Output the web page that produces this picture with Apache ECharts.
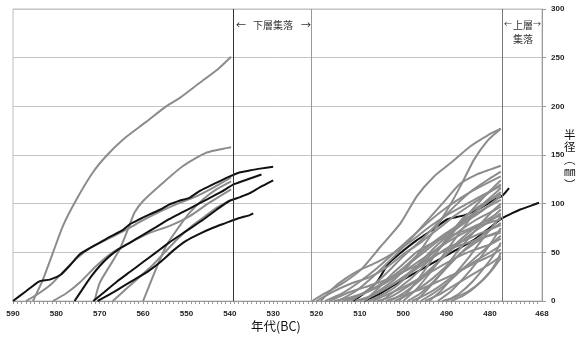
<!DOCTYPE html>
<html>
<head>
<meta charset="utf-8">
<script src="https://cdn.jsdelivr.net/npm/echarts@6/dist/echarts.min.js"></script>
<style>
  html, body { margin: 0; padding: 0; background: #fff; }
  #chart { width: 588px; height: 337px; }
</style>
</head>
<body>
<div id="chart"></div>
<script>
// 年代ラベル（BC）と半径の目盛
const yearLabels = [590, 580, 570, 560, 550, 540, 530, 520, 510, 500, 490, 480, 468];
const radiusTicks = [0, 50, 100, 150, 200, 250, 300];
// 集落の境界（年代）
const boundaryYears = [539.3, 521.3, 477.2];

// 下層集落：黒線
const lowerBlack = [
  [[590, 0], [587, 10], [584, 20], [581.5, 22], [579, 27], [577, 36], [574.6, 48], [572, 55], [570, 60], [567.7, 66], [565, 72], [563, 79], [560.8, 84], [558.5, 89], [556, 94], [554, 99], [551.6, 103], [549.3, 106], [547, 113], [544.7, 118], [542.4, 123], [540, 128], [537.8, 132], [535.5, 134], [533, 136], [530, 138]],
  [[575.8, 0], [574, 12], [572, 25], [570, 36], [568, 45], [566, 52], [563, 60], [560, 68], [557, 76], [554, 84], [551, 91], [548, 98], [545, 105], [542, 112], [539, 120], [535.5, 125.6], [532.7, 130]],
  [[571.5, 0], [569, 9], [566, 20], [563, 30], [560, 40], [557, 50], [554, 60], [550, 72], [546, 84], [543, 94], [540, 103], [537.5, 107], [535.5, 110.5], [533, 117], [530, 124]],
  [[570.5, 0], [568, 6], [565, 14], [562, 22], [559, 30], [556, 40], [553, 52], [550, 62], [547, 69], [544, 75], [541, 80], [538, 85], [535.5, 88], [534.6, 90]]
];

// 下層集落：灰色線
const lowerGray = [
  [[585.4, 0], [583.1, 22], [580.8, 49.5], [578.5, 77], [575.4, 104], [571.6, 132], [568.5, 149], [564.6, 166], [559.3, 184], [554.7, 200], [551.6, 208.5], [547, 224], [542.9, 237.6], [539.7, 251]],
  [[571.2, 0], [570, 18.6], [567.7, 36], [565.4, 53], [563.5, 73.5], [562, 90.6], [560, 102.7], [555.4, 121.5], [550.8, 138.7], [545.4, 152.4], [539.7, 158]],
  [[587, 0], [584, 8], [581, 18], [578, 32], [575, 45], [572, 55], [568, 64], [564, 73], [560, 83], [556, 92], [552, 100], [548, 107], [544, 116], [539.7, 127]],
  [[580.8, 0], [577.7, 8], [574.6, 19], [570.8, 36], [567, 50], [563, 60], [558.5, 70], [554, 77], [549.3, 87], [544.7, 101], [539.7, 114.7]],
  [[567, 0], [564, 12], [561, 24], [558, 36], [555, 50], [552, 64], [549, 76], [546, 86], [543, 96], [539.7, 104]],
  [[560, 0], [557.7, 25.5], [554.7, 56.5], [551.6, 77], [549.3, 90.6], [546.2, 104.4], [543.1, 114.7], [539.7, 123]]
];

// 上層集落：黒線
const upperBlack = [
  [[511.5, 0], [509, 8], [506, 20], [503.5, 38], [501, 48], [497, 62], [493, 74], [489.8, 84], [486, 88], [482, 96], [479, 104], [477.2, 108], [475.6, 116]],
  [[509, 0], [506, 6], [503, 14], [500, 22], [496, 32], [492, 42], [488, 52], [484, 62], [481, 72], [477.2, 85], [475, 90], [473, 94], [470.5, 98], [468.7, 101]]
];

// 上層集落：灰色線
const upperGray = [
  [[521, 0], [518, 8], [514.4, 17], [509.8, 32], [505.2, 56], [500.6, 80], [496.8, 108], [492.9, 128], [489, 142], [484.5, 159], [480.6, 170], [477.5, 177]],
  [[509, 0], [506.7, 7], [502, 22], [497.5, 43], [493.7, 67], [489.8, 94], [486.8, 118], [483.7, 145], [480.5, 165], [477.5, 177]],
  [[515, 0], [511, 10], [507, 25], [503, 42], [499, 60], [495, 80], [491, 100], [487, 120], [483, 130], [480, 135], [477.5, 139]],
  [[512, 0], [508, 12], [504, 28], [500, 46], [496, 62], [492, 80], [488, 98], [484, 114], [480, 126], [477.5, 133]],
  [[518, 0], [514, 8], [510, 20], [506, 34], [502, 50], [498, 66], [494, 82], [490, 96], [486, 108], [482, 118], [477.5, 128]],
  [[505, 0], [502, 10], [498, 24], [494, 42], [490, 62], [486, 84], [482, 104], [477.5, 124]],
  [[520, 0], [516, 10], [512, 18], [508, 24], [504, 34], [500, 48], [496, 60], [492, 74], [488, 88], [484, 100], [480, 112], [477.5, 120]],
  [[500, 0], [497, 12], [494, 28], [491, 46], [488, 64], [485, 82], [482, 98], [479.5, 108], [477.5, 116]],
  [[513, 0], [509, 8], [505, 18], [501, 30], [497, 44], [493, 58], [489, 72], [485, 86], [481, 100], [477.5, 112]],
  [[508, 0], [505, 6], [502, 14], [499, 26], [496, 40], [493, 54], [490, 66], [486, 80], [482, 92], [477.5, 108]],
  [[516, 0], [512, 4], [508, 10], [504, 20], [500, 34], [496, 50], [492, 64], [488, 76], [484, 88], [480, 98], [477.5, 104]],
  [[497, 0], [494, 14], [491, 30], [488, 48], [485, 64], [482, 80], [479.5, 92], [477.5, 100]],
  [[511, 0], [507, 6], [503, 16], [499, 28], [495, 42], [491, 58], [487, 72], [483, 84], [479.5, 92], [477.5, 97]],
  [[503, 0], [500, 8], [497, 18], [494, 30], [491, 44], [488, 58], [485, 70], [482, 80], [479, 88], [477.5, 94]],
  [[506, 0], [503, 4], [500, 12], [496, 24], [492, 40], [488, 56], [484, 70], [480, 82], [477.5, 90]],
  [[494, 0], [491, 12], [488, 28], [485, 44], [482, 62], [479.5, 76], [477.5, 87]],
  [[514, 0], [510, 6], [506, 14], [502, 24], [498, 36], [494, 48], [490, 60], [486, 70], [482, 78], [477.5, 84]],
  [[499, 0], [496, 8], [493, 20], [490, 34], [487, 48], [484, 60], [481, 70], [477.5, 80]],
  [[510, 0], [506, 8], [502, 18], [498, 30], [494, 42], [490, 54], [486, 62], [482, 70], [477.5, 78]],
  [[492, 0], [489, 10], [486, 24], [483, 40], [480, 58], [477.5, 75]],
  [[502, 0], [499, 6], [496, 14], [493, 24], [490, 36], [487, 48], [484, 58], [481, 66], [477.5, 72]],
  [[517, 0], [513, 8], [509, 14], [505, 20], [501, 28], [497, 36], [493, 46], [489, 54], [485, 60], [481, 66], [477.5, 70]],
  [[496, 0], [493, 8], [490, 18], [487, 30], [484, 42], [481, 54], [477.5, 67]],
  [[507, 0], [504, 6], [500, 14], [496, 24], [492, 34], [488, 44], [484, 52], [480, 58], [477.5, 64]],
  [[490, 0], [487, 8], [484, 20], [481, 36], [479, 48], [477.5, 60]],
  [[498, 0], [495, 6], [492, 14], [489, 24], [486, 34], [483, 42], [480, 50], [477.5, 57]],
  [[504, 0], [500, 6], [496, 12], [492, 20], [488, 28], [484, 38], [480, 46], [477.5, 53]],
  [[489, 0], [486, 6], [483, 16], [480, 30], [478.5, 40], [477.5, 50]],
  [[495, 0], [492, 6], [489, 14], [486, 22], [483, 30], [480, 38], [477.5, 46]],
  [[491, 0], [488, 4], [485, 10], [482, 20], [479.5, 32], [477.5, 44]],
  [[501, 0], [498, 14], [495, 32], [492, 52], [489, 70], [486, 86], [483, 96], [480, 104], [477.5, 110]],
  [[519, 0], [516, 14], [513, 24], [510, 32], [506, 40], [502, 50], [498, 62], [494, 76], [490, 88], [486, 98], [482, 108], [477.5, 118]],
  [[509, 0], [506, 12], [503, 26], [500, 38], [497, 50], [494, 58], [490, 66], [486, 72], [482, 80], [477.5, 88]]
];

const GRAY = '#8c8c8c';
const BLACK = '#111111';
const jpFont = '"Noto Sans CJK JP", sans-serif';

// 毎年の小目盛
const minorTicks = [];
for (let y = 590; y >= 469; y -= 1) minorTicks.push(y);

function lineSeries(data, color, z) {
  return {
    type: 'line',
    data,
    showSymbol: false,
    smooth: 0.2,
    silent: true,
    z,
    lineStyle: { color, width: 2 },
  };
}

const series = [];
upperBlack.forEach((d) => series.push(lineSeries(d, BLACK, 2)));
upperGray.forEach((d) => series.push(lineSeries(d, GRAY, 3)));
lowerGray.forEach((d) => series.push(lineSeries(d, GRAY, 3)));
lowerBlack.forEach((d) => series.push(lineSeries(d, BLACK, 4)));

/* 集落境界の縦線 */
series.push({
  type: 'line',
  data: [],
  z: 5,
  markLine: {
    silent: true,
    symbol: 'none',
    label: { show: false },
    data: [
      { xAxis: boundaryYears[0], lineStyle: { color: '#333', width: 1, type: 'solid' } },
      { xAxis: boundaryYears[1], lineStyle: { color: '#999', width: 1, type: 'solid' } },
      { xAxis: boundaryYears[2], lineStyle: { color: '#777', width: 1, type: 'solid' } },
    ],
  },
});

const chart = echarts.init(document.getElementById('chart'));
chart.setOption({
  animation: false,
  backgroundColor: '#fff',
  grid: {
    left: 13, right: 46, top: 9, bottom: 36,
    show: true, borderColor: '#bdbdbd', borderWidth: 1,
  },
  xAxis: {
    type: 'value',
    inverse: true,
    min: 468,
    max: 590,
    splitLine: { show: false },
    axisLine: { show: true, onZero: false, lineStyle: { color: '#999', width: 1 } },
    axisTick: { show: true, customValues: minorTicks, length: 3, lineStyle: { color: '#999' } },
    axisLabel: {
      customValues: yearLabels,
      margin: 9,
      fontSize: 8,
      fontWeight: 'bold',
      color: '#222',
      fontFamily: 'Liberation Sans, sans-serif',
    },
  },
  yAxis: {
    type: 'value',
    position: 'right',
    min: 0,
    max: 300,
    interval: 50,
    splitLine: { show: true, lineStyle: { color: '#c4c4c4', width: 1 } },
    axisLine: { show: true, onZero: false, lineStyle: { color: '#999', width: 1 } },
    axisTick: { show: true, length: 4, lineStyle: { color: '#999' } },
    axisLabel: {
      customValues: radiusTicks,
      margin: 9,
      fontSize: 8,
      fontWeight: 'bold',
      color: '#222',
      fontFamily: 'Liberation Sans, sans-serif',
    },
  },
  graphic: [
    { type: 'text', left: 236, top: 20, style: { text: '←', fontSize: 10, fill: '#333', fontFamily: jpFont } },
    { type: 'text', left: 253, top: 20, style: { text: '下層集落', fontSize: 10, fill: '#333', fontFamily: jpFont } },
    { type: 'text', left: 301, top: 20, style: { text: '→', fontSize: 10, fill: '#333', fontFamily: jpFont } },
    { type: 'text', left: 504, top: 20, style: { text: '←', fontSize: 8, fill: '#333', fontFamily: jpFont } },
    { type: 'text', left: 513, top: 20, style: { text: '上層', fontSize: 10, fill: '#333', fontFamily: jpFont } },
    { type: 'text', left: 533, top: 20, style: { text: '→', fontSize: 8, fill: '#333', fontFamily: jpFont } },
    { type: 'text', left: 513, top: 34, style: { text: '集落', fontSize: 10, fill: '#333', fontFamily: jpFont } },
    {
      type: 'text', left: 251, top: 320,
      style: { text: '年代(BC)', fontSize: 12.5, fill: '#111', fontFamily: jpFont },
    },
    {
      type: 'text', left: 564, top: 128,
      style: { text: '半\n径\n︵\n㎜\n︶', fontSize: 11.5, lineHeight: 12.5, fill: '#111', fontFamily: jpFont },
    },
  ],
  series,
});
</script>
</body>
</html>
